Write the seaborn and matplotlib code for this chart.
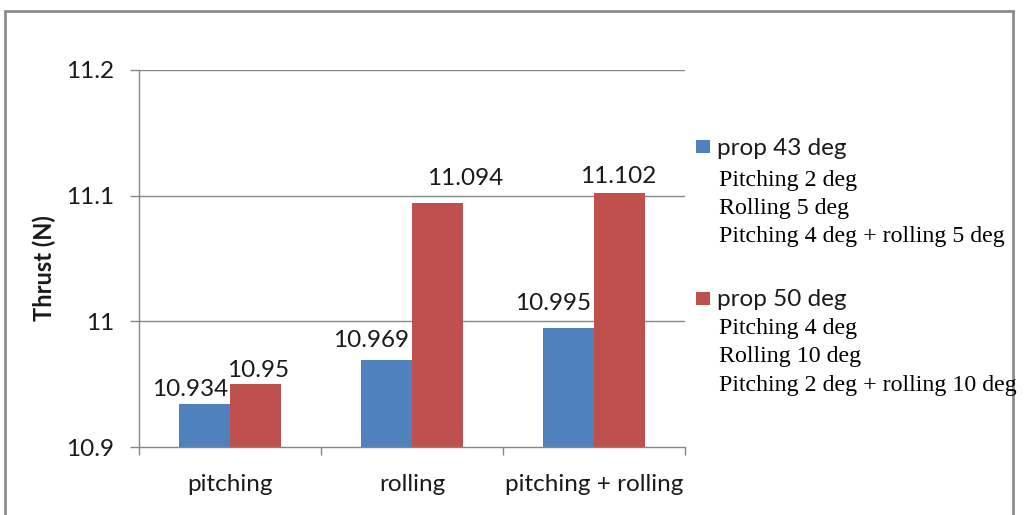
import matplotlib
matplotlib.use("Agg")
import matplotlib.pyplot as plt
from matplotlib.patches import Rectangle
import pandas as pd
import seaborn as sns

# ---- data ----
cases = ["pitching", "rolling", "pitching + rolling"]
prop_43 = [10.934, 10.969, 10.995]
prop_50 = [10.950, 11.094, 11.102]
series_names = ["prop 43 deg", "prop 50 deg"]
series_notes = [
    ["Pitching 2 deg", "Rolling 5 deg", "Pitching 4 deg + rolling 5 deg"],
    ["Pitching 4 deg", "Rolling 10 deg", "Pitching 2 deg + rolling 10 deg"],
]
y_ticks = [10.9, 11.0, 11.1, 11.2]
y_tick_labels = ["10.9", "11", "11.1", "11.2"]
y_label = "Thrust (N)"

colors = ["#4F81BD", "#C0504D"]

df = pd.DataFrame({
    "case": cases * 2,
    "thrust": prop_43 + prop_50,
    "prop": [series_names[0]] * len(cases) + [series_names[1]] * len(cases),
})

sns.set_theme(style="white")
plt.rcParams["font.family"] = ["Lato", "DejaVu Sans"]

W, H = 1024, 515
fig = plt.figure(figsize=(W / 100, H / 100), dpi=100)
fig.patch.set_facecolor("white")
PT = 0.72  # points per pixel at 100 dpi


def fx(px):
    return px / W


def fy(py):
    return 1 - py / H


ax = fig.add_axes([fx(139), fy(447), fx(685) - fx(139), fy(70) - fy(447)])

sns.barplot(data=df, x="case", y="thrust", hue="prop", order=cases,
            hue_order=series_names, palette=colors, saturation=1,
            width=0.56, legend=False, ax=ax, edgecolor="none", linewidth=0)

ax.set_ylim(10.9, 11.2)
ax.set_xlim(-0.5, len(cases) - 0.5)
ax.set_yticks(y_ticks)
ax.set_yticklabels(y_tick_labels)
ax.set_xlabel("")
ax.set_ylabel("")

axis_grey = "#868686"
ax.grid(False)
for v in y_ticks[1:]:
    ax.axhline(v, color=axis_grey, lw=1.0, zorder=0.5)
for s in ["top", "right"]:
    ax.spines[s].set_visible(False)
for s in ["left", "bottom"]:
    ax.spines[s].set_color(axis_grey)
    ax.spines[s].set_linewidth(1.0)

ax.tick_params(axis="y", which="major", left=True, length=9 * PT, width=1.0,
               color=axis_grey, labelsize=17.5, pad=16 * PT,
               labelcolor="#1a1a1a")
ax.set_xticks([i - 0.5 for i in range(len(cases) + 1)], minor=True)
ax.tick_params(axis="x", which="minor", bottom=True, length=8 * PT, width=1.0,
               color=axis_grey)
ax.tick_params(axis="x", which="major", bottom=False, length=0,
               labelsize=17.5, pad=27 * PT, labelcolor="#1a1a1a")

fig.text(fx(44), fy(268), y_label, rotation=90, ha="center", va="center",
         fontsize=17, fontweight="bold", color="#1a1a1a")

# value labels above each bar, nudged sideways where they would collide
label_shift = [
    [(-14, 15), (-15, 20), (-15, 24)],
    [(3, 14), (28, 25), (-1, 17)],
]
for si, cont in enumerate(ax.containers):
    for bi, bar in enumerate(cont):
        val = bar.get_height()
        cx = bar.get_x() + bar.get_width() / 2
        dx, dy = label_shift[si][bi]
        ax.annotate(f"{val:g}", (cx, val), xytext=(dx, dy),
                    textcoords="offset pixels", ha="center", va="center",
                    fontsize=17.5, color="#1a1a1a", annotation_clip=False)

# legend with descriptive notes
swatch_top = [140, 292]
name_base = [155, 306]
note_base = [[186, 214, 242], [334, 362, 391]]
for si, name in enumerate(series_names):
    fig.add_artist(Rectangle((fx(696), fy(swatch_top[si] + 13)), 14 / W, 13 / H,
                             transform=fig.transFigure, facecolor=colors[si],
                             edgecolor="none"))
    fig.text(fx(717), fy(name_base[si]), name, ha="left", va="baseline",
             fontsize=17.5, color="#1a1a1a")
    for li, note in enumerate(series_notes[si]):
        fig.text(fx(719), fy(note_base[si][li]), note, ha="left",
                 va="baseline", fontsize=17.2, color="black",
                 family=["Liberation Serif", "DejaVu Serif"])

# chart frame
fig.add_artist(Rectangle((fx(5), -0.05), fx(1013) - fx(5), fy(11) + 0.05,
                         transform=fig.transFigure, fill=False,
                         edgecolor="#8c8c8c", linewidth=2))

fig.savefig("out.png", dpi=100)
